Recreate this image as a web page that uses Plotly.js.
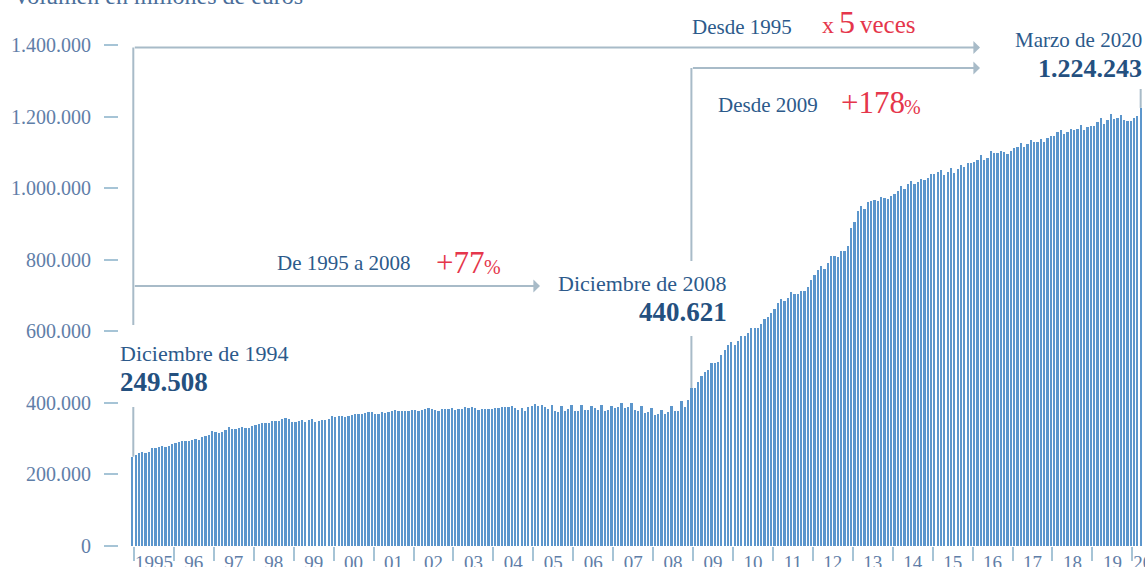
<!DOCTYPE html>
<html><head><meta charset="utf-8">
<script src="https://cdn.plot.ly/plotly-3.0.1.min.js"></script>
<style>
html,body{margin:0;padding:0;overflow:hidden;background:#fff;width:1145px;height:567px;position:relative}
#chart{position:absolute;left:0;top:-30px;width:1180px;height:620px}
</style>
</head><body><div id="chart"></div>
<script>
// Volumen en millones de euros, mensual, diciembre 1994 - marzo 2020
const dec1994 = [249508];
const y1995 = [253600, 259200, 262000, 259200, 262000, 273000, 273000, 276000, 278800, 276000, 278800, 284400];
const y1996 = [287000, 290000, 292700, 292700, 292700, 295500, 298300, 295500, 304000, 306700, 309500, 320700];
const y1997 = [318000, 315000, 318000, 323500, 331900, 326300, 326300, 329000, 331900, 329000, 329000, 334700];
const y1998 = [337500, 340300, 343000, 343000, 343000, 348700, 348700, 348700, 354200, 357000, 354200, 345900];
const y1999 = [345900, 348700, 351500, 345900, 351500, 354200, 345900, 348700, 351500, 351500, 354200, 362600];
const y2000 = [359800, 362600, 362600, 359800, 362600, 365400, 368200, 368200, 368200, 371000, 373800, 373800];
const y2001 = [368200, 368200, 373800, 371000, 373800, 376600, 379400, 376600, 376600, 376600, 376600, 379400];
const y2002 = [379400, 376600, 379400, 382200, 385000, 382200, 379400, 376600, 382200, 382200, 382200, 385000];
const y2003 = [379400, 382200, 382200, 387800, 385000, 387800, 385000, 379400, 382200, 382200, 382200, 382200];
const y2004 = [385000, 385000, 387800, 387800, 387800, 390600, 385000, 379400, 385000, 376600, 387800, 390600];
const y2005 = [396200, 390600, 393400, 387800, 382200, 393400, 376600, 373800, 390600, 376600, 382200, 393400];
const y2006 = [376600, 376600, 393400, 379400, 379400, 390600, 385000, 379400, 393400, 376600, 379400, 390600];
const y2007 = [385000, 387800, 399000, 385000, 387800, 399000, 379400, 376600, 390600, 371000, 373800, 385000];
const y2008 = [365400, 368200, 379400, 368200, 373800, 390600, 376600, 376600, 404600, 387800, 407400, 440621];
const y2009 = [441000, 457800, 474600, 485800, 491400, 511000, 511000, 513800, 533200, 547200, 561200, 569500];
const y2010 = [561200, 572300, 586300, 586300, 594700, 608700, 608700, 608700, 619900, 633900, 639500, 650600];
const y2011 = [661800, 678600, 689800, 684200, 692600, 709300, 703700, 703700, 712100, 712100, 724700, 742900];
const y2012 = [756900, 770900, 782000, 773600, 790400, 810000, 810000, 807200, 824000, 824000, 838000, 888300];
const y2013 = [905000, 935800, 949800, 941400, 961000, 963800, 966600, 963800, 975000, 972200, 969400, 977800];
const y2014 = [983400, 991700, 1005700, 997300, 1011300, 1019700, 1011300, 1016900, 1025300, 1022500, 1028100, 1039300];
const y2015 = [1039300, 1044900, 1050500, 1036500, 1044900, 1056000, 1042000, 1053300, 1064400, 1058800, 1070000, 1070000];
const y2016 = [1072800, 1078400, 1092400, 1078400, 1084000, 1103600, 1098000, 1098000, 1103600, 1100800, 1095200, 1103600];
const y2017 = [1112000, 1114800, 1126000, 1114800, 1123200, 1134300, 1128700, 1128700, 1137100, 1128700, 1139900, 1145500];
const y2018 = [1145500, 1156700, 1162300, 1151100, 1156700, 1165100, 1162300, 1165100, 1176300, 1162300, 1170700, 1173500];
const y2019 = [1173500, 1184700, 1195800, 1179100, 1190300, 1207000, 1193000, 1195800, 1204200, 1190300, 1187500, 1187500];
const y2020 = [1195800, 1201400, 1224243];

const yearLabels = ['1995','96','97','98','99','00','01','02','03','04','05','06','07','08','09','10','11','12','13','14','15','16','17','18','19','2020'];
const yTicks = [0, 200000, 400000, 600000, 800000, 1000000, 1200000, 1400000];

const values = [].concat(dec1994, y1995, y1996, y1997, y1998, y1999, y2000, y2001, y2002, y2003,
  y2004, y2005, y2006, y2007, y2008, y2009, y2010, y2011, y2012, y2013, y2014, y2015, y2016,
  y2017, y2018, y2019, y2020);
const idx = values.map((_, i) => i);
const yearCenters = yearLabels.map((_, k) => k * 12 + 6.5);
const yearBounds = yearLabels.map((_, k) => k * 12 + 0.5);

// layout geometry helpers (viewport pixels -> axis / paper units)
const L = 119, PW = 1061, PH = 501, BOT = 546;
const ix = px => (px - 132.3) / 3.328;
const vy = py => (BOT - py) * 1400000 / PH;
const xp = px => (px - L) / PW;
const yp = py => (BOT - py) / PH;

const BAR = '#5c96cc', LINE = '#a8bbc8', TICK = '#a6c4d6', TXT = '#2c5a8b', NUM = '#24507f', RED = '#e5364b', AX = '#5f7ea8';
const FF = 'Liberation Serif, Times New Roman, serif';

function txt(text, px, py, anchor, size, color, bold) {
  return {xref: 'paper', yref: 'paper', x: xp(px), y: yp(py), xanchor: anchor, yanchor: 'middle',
    text: bold ? '<b>' + text + '</b>' : text, showarrow: false, borderpad: 0, borderwidth: 0,
    font: {family: FF, size: size, color: color}};
}
function arrow(x0, x1, yv) {
  return {xref: 'x', yref: 'y', axref: 'x', ayref: 'y', x: x1, y: yv, ax: x0, ay: yv, text: '',
    showarrow: true, arrowhead: 1, arrowsize: 1.1, arrowwidth: 2, arrowcolor: LINE, standoff: 0};
}
function vline(x, ya, yb) {
  return {type: 'line', xref: 'x', yref: 'y', x0: x, x1: x, y0: ya, y1: yb, layer: 'below',
    line: {color: LINE, width: 2}};
}

const trace = {type: 'bar', x: idx, y: values, width: 0.68, marker: {color: BAR, line: {width: 0}},
  hoverinfo: 'skip'};

const layout = {
  width: 1180, height: 620, paper_bgcolor: '#fff', plot_bgcolor: '#fff',
  margin: {l: L, r: 0, t: 75, b: 44},
  separators: ',.', showlegend: false, bargap: 0,
  font: {family: FF},
  xaxis: {range: [ix(L), ix(L + PW)], showgrid: false, zeroline: false, showline: false,
    tickmode: 'array', tickvals: yearCenters, ticktext: yearLabels, ticks: '',
    ticklabelstandoff: 3, tickfont: {family: FF, size: 19, color: AX},
    minor: {tickmode: 'array', tickvals: yearBounds, ticks: 'outside', ticklen: 14, tickwidth: 2, tickcolor: TICK, showgrid: false}},
  yaxis: {range: [0, 1400000], showgrid: false, zeroline: false, showline: false,
    tickmode: 'array', tickvals: yTicks, tickformat: ',d', ticks: 'outside', ticklen: 14, tickwidth: 2,
    tickcolor: TICK, ticklabelstandoff: 9, tickfont: {family: FF, size: 20, color: AX}},
  shapes: [
    vline(0.3, vy(47.5), vy(325)),
    vline(0.3, vy(407), values[0]),
    vline(168, vy(68), vy(261)),
    vline(168, vy(336), values[168]),
    vline(303, vy(89), values[303])
  ],
  annotations: [
    arrow(0.3, ix(980), vy(47.5)),
    arrow(168, ix(980), vy(68)),
    arrow(0.3, ix(540), vy(286)),
    txt('Volumen en millones de euros', 13, -4, 'left', 24, '#4a6e9a'),
    txt('Desde 1995', 692, 27, 'left', 21, TXT),
    txt('x', 822, 33.3 - 0.338 * 24, 'left', 24, RED),
    txt('5', 839, 33.3 - 0.338 * 32, 'left', 32, RED),
    txt('veces', 860, 33.3 - 0.338 * 25, 'left', 25, RED),
    txt('Marzo de 2020', 1142, 40, 'right', 21, TXT),
    txt('1.224.243', 1142, 68.3, 'right', 26, NUM, true),
    txt('Desde 2009', 718, 105, 'left', 21, TXT),
    txt('+178', 841, 113.3 - 0.338 * 31, 'left', 31, RED),
    txt('%', 904, 113.3 - 0.338 * 20, 'left', 20, RED),
    txt('De 1995 a 2008', 277, 263.3, 'left', 21, TXT),
    txt('+77', 436, 273.3 - 0.338 * 31, 'left', 31, RED),
    txt('%', 484, 273.3 - 0.338 * 20, 'left', 20, RED),
    txt('Diciembre de 2008', 727, 283.3, 'right', 22, TXT),
    txt('440.621', 727, 312, 'right', 27, NUM, true),
    txt('Diciembre de 1994', 120, 353, 'left', 22, TXT),
    txt('249.508', 120, 382.5, 'left', 27, NUM, true)
  ]
};

Plotly.newPlot('chart', [trace], layout, {staticPlot: true, displayModeBar: false});
</script>
</body></html>
